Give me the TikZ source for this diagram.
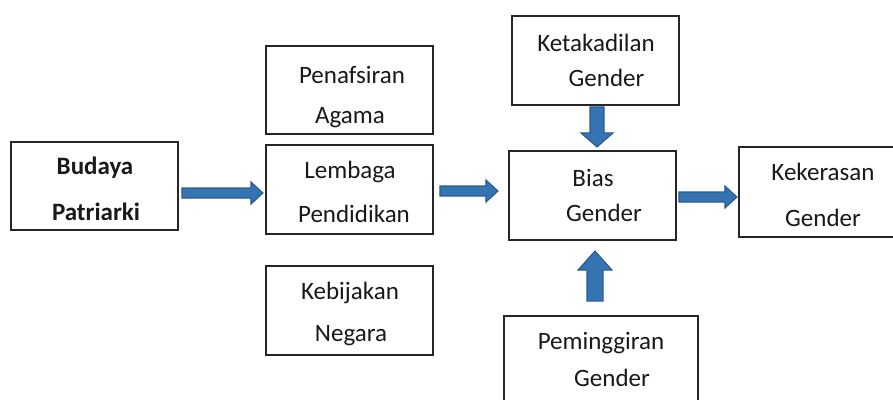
\documentclass[tikz,border=0pt]{standalone}
\usepackage{fontspec}
\setmainfont{Carlito}
\begin{document}
\begin{tikzpicture}[x=1pt,y=-1pt,
  box/.style={draw=black!85,line width=1.8pt,fill=white,inner sep=0pt},
  txt/.style={inner sep=0pt,font=\fontsize{25}{28}\selectfont,text=black!90},
  blockarrow/.style={fill=arrowfill,draw=arrowline,line width=1.2pt,line join=miter}]
\definecolor{arrowfill}{HTML}{3574B3}
\definecolor{arrowline}{HTML}{2A5D8F}
\clip (0,0) rectangle (893,399);
\fill[white] (0,0) rectangle (893,399);
% boxes
\node[box,minimum width=167pt,minimum height=88pt] (bp) at (94.5,186) {};
\node[box,minimum width=167pt,minimum height=88pt] (pa) at (349.5,90) {};
\node[box,minimum width=167pt,minimum height=89pt] (lp) at (349.5,189.5) {};
\node[box,minimum width=167pt,minimum height=89pt] (kn) at (349.5,310.5) {};
\node[box,minimum width=167pt,minimum height=89pt] (kg) at (595.5,60.5) {};
\node[box,minimum width=167pt,minimum height=89pt] (bg) at (592.5,195.5) {};
\node[box,minimum width=165pt,minimum height=90pt] (kk) at (821.5,192) {};
\node[box,minimum width=194pt,minimum height=100pt] (pg) at (601,366) {};
% texts
\node[txt,font=\fontsize{25}{28}\selectfont\bfseries] (t1) at (95,168) {Budaya};
\node[txt,font=\fontsize{25}{28}\selectfont\bfseries] (t2) at (96,212) {Patriarki};
\node[txt] (t3) at (352,75) {Penafsiran};
\node[txt] (t4) at (350,118) {Agama};
\node[txt] (t5) at (350,172) {Lembaga};
\node[txt] (t6) at (354,214) {Pendidikan};
\node[txt] (t7) at (350,293) {Kebijakan};
\node[txt] (t8) at (351,336) {Negara};
\node[txt] (t9) at (596,43) {Ketakadilan};
\node[txt] (t10) at (606.5,78) {Gender};
\node[txt] (t11) at (593,178) {Bias};
\node[txt] (t12) at (604,213) {Gender};
\node[txt] (t13) at (823,172) {Kekerasan};
\node[txt] (t14) at (823,218) {Gender};
\node[txt] (t15) at (601,343) {Peminggiran};
\node[txt] (t16) at (612,378) {Gender};
% block arrows (horizontal)
\draw[blockarrow] ([yshift=-7pt]bp.east) ++(3,-5) -- ++(69,0) -- ++(0,-6) -- ++(12,11) -- ++(-12,11) -- ++(0,-6) -- ++(-69,0) -- cycle;
\draw[blockarrow] ([yshift=-1.5pt]lp.east) ++(6,-5) -- ++(46,0) -- ++(0,-6) -- ++(12,11) -- ++(-12,11) -- ++(0,-6) -- ++(-46,0) -- cycle;
\draw[blockarrow] ([yshift=-1.5pt]bg.east) ++(2,-5) -- ++(46,0) -- ++(0,-6) -- ++(12,11) -- ++(-12,11) -- ++(0,-6) -- ++(-46,0) -- cycle;
% vertical arrows
\draw[blockarrow] ([xshift=1.5pt]kg.south) ++(-7,1) -- ++(0,26) -- ++(-9,0) -- ++(16,14) -- ++(16,-14) -- ++(-9,0) -- ++(0,-26) -- cycle;
\draw[blockarrow] ([xshift=-6pt]pg.north) ++(-8,-14) -- ++(0,-31) -- ++(-9,0) -- ++(17,-19) -- ++(17,19) -- ++(-9,0) -- ++(0,31) -- cycle;
\end{tikzpicture}
\end{document}
